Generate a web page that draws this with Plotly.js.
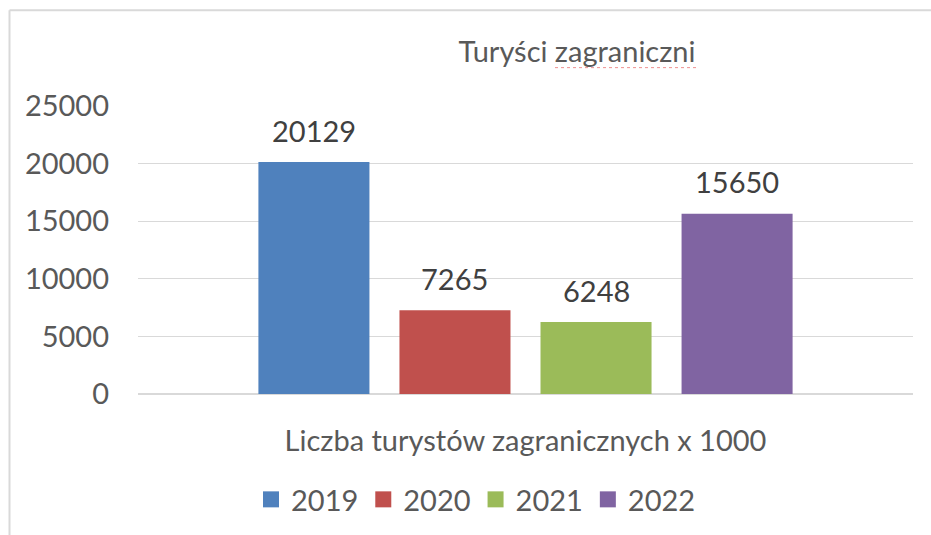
<!DOCTYPE html>
<html>
<head>
<meta charset="utf-8">
<script src="https://cdn.plot.ly/plotly-3.0.1.min.js"></script>
<style>
html,body{margin:0;padding:0;background:#fff;}
#chart{width:931px;height:535px;}
</style>
</head>
<body>
<div id="chart"></div>
<script>
// ---- data ----
const category = ["Liczba turystów zagranicznych x 1000"];
const years = ["2019", "2020", "2021", "2022"];
const values = [20129, 7265, 6248, 15650];
const colors = ["#4F81BD", "#C0504D", "#9BBB59", "#8064A2"];
const yTicks = [0, 5000, 10000, 15000, 20000, 25000];
const titleText = "Turyści zagraniczni";

const FONT = "Lato, 'Open Sans', sans-serif";
const FS = 29;
const bargap = 0.272, bargroupgap = 0.2128;

const traces = years.map((yr, i) => ({
  type: "bar",
  name: yr,
  x: category,
  y: [values[i]],
  marker: {color: colors[i]},
  showlegend: false,
  hoverinfo: "skip"
}));
// legend-only entries (square swatches)
years.forEach((yr, i) => {
  traces.push({
    type: "scatter", mode: "markers", name: yr,
    x: [null], y: [null],
    marker: {symbol: "square", size: 18, color: colors[i]},
    showlegend: true, hoverinfo: "skip"
  });
});

// data labels placed over each bar via the axis' category scale
const w = 1 - bargap, slot = w / years.length;
const annotations = years.map((yr, i) => ({
  xref: "x", yref: "y",
  x: -w / 2 + slot * (i + 0.5),
  y: values[i],
  text: String(values[i]),
  showarrow: false,
  yanchor: "middle",
  yshift: 32,
  font: {family: FONT, size: FS, color: "#404040"}
}));

const layout = {
  width: 931, height: 535,
  margin: {l: 138, r: 18, t: 106, b: 140},
  paper_bgcolor: "#ffffff", plot_bgcolor: "#ffffff",
  barmode: "group",
  bargap: bargap, bargroupgap: bargroupgap,
  font: {family: FONT, size: FS, color: "#595959"},
  title: {
    text: titleText,
    xref: "container", yref: "container",
    x: 577 / 931, xanchor: "center",
    y: 1 - 52 / 535, yanchor: "middle",
    font: {family: FONT, size: FS, color: "#595959"}
  },
  xaxis: {
    type: "category",
    showgrid: false, zeroline: false, showline: false,
    ticks: "", ticklabelstandoff: 27,
    tickfont: {family: FONT, size: FS, color: "#595959"},
    fixedrange: true
  },
  yaxis: {
    range: [0, 25000],
    tickvals: yTicks,
    ticktext: yTicks.map(String),
    showgrid: true, gridcolor: "#d9d9d9", gridwidth: 1.3,
    zeroline: true, zerolinecolor: "#d9d9d9", zerolinewidth: 2,
    showline: false, ticks: "", ticklabelstandoff: 28,
    tickfont: {family: FONT, size: FS, color: "#595959"},
    fixedrange: true
  },
  legend: {
    orientation: "h",
    x: (476 - 138) / 775, xanchor: "center",
    y: (394.5 - 499) / 289, yanchor: "middle",
    font: {family: FONT, size: FS, color: "#595959"},
    bgcolor: "rgba(0,0,0,0)"
  },
  annotations: annotations,
  shapes: [
    {type: "line", xref: "paper", yref: "paper",
     x0: (9.5 - 138) / 775, x1: (935 - 138) / 775,
     y0: (394.5 - 9.5) / 289, y1: (394.5 - 9.5) / 289,
     line: {color: "#d9d9d9", width: 2}},
    {type: "line", xref: "paper", yref: "paper",
     x0: (9.5 - 138) / 775, x1: (9.5 - 138) / 775,
     y0: (394.5 - 9.5) / 289, y1: (394.5 - 540) / 289,
     line: {color: "#d9d9d9", width: 2}},
    {type: "line", xref: "paper", yref: "paper",
     x0: (555 - 138) / 775, x1: (697 - 138) / 775,
     y0: (394.5 - 67) / 289, y1: (394.5 - 67) / 289,
     line: {color: "#ee8f8f", width: 1, dash: "dot"}}
  ]
};

Plotly.newPlot("chart", traces, layout, {displayModeBar: false, staticPlot: true});
</script>
</body>
</html>
